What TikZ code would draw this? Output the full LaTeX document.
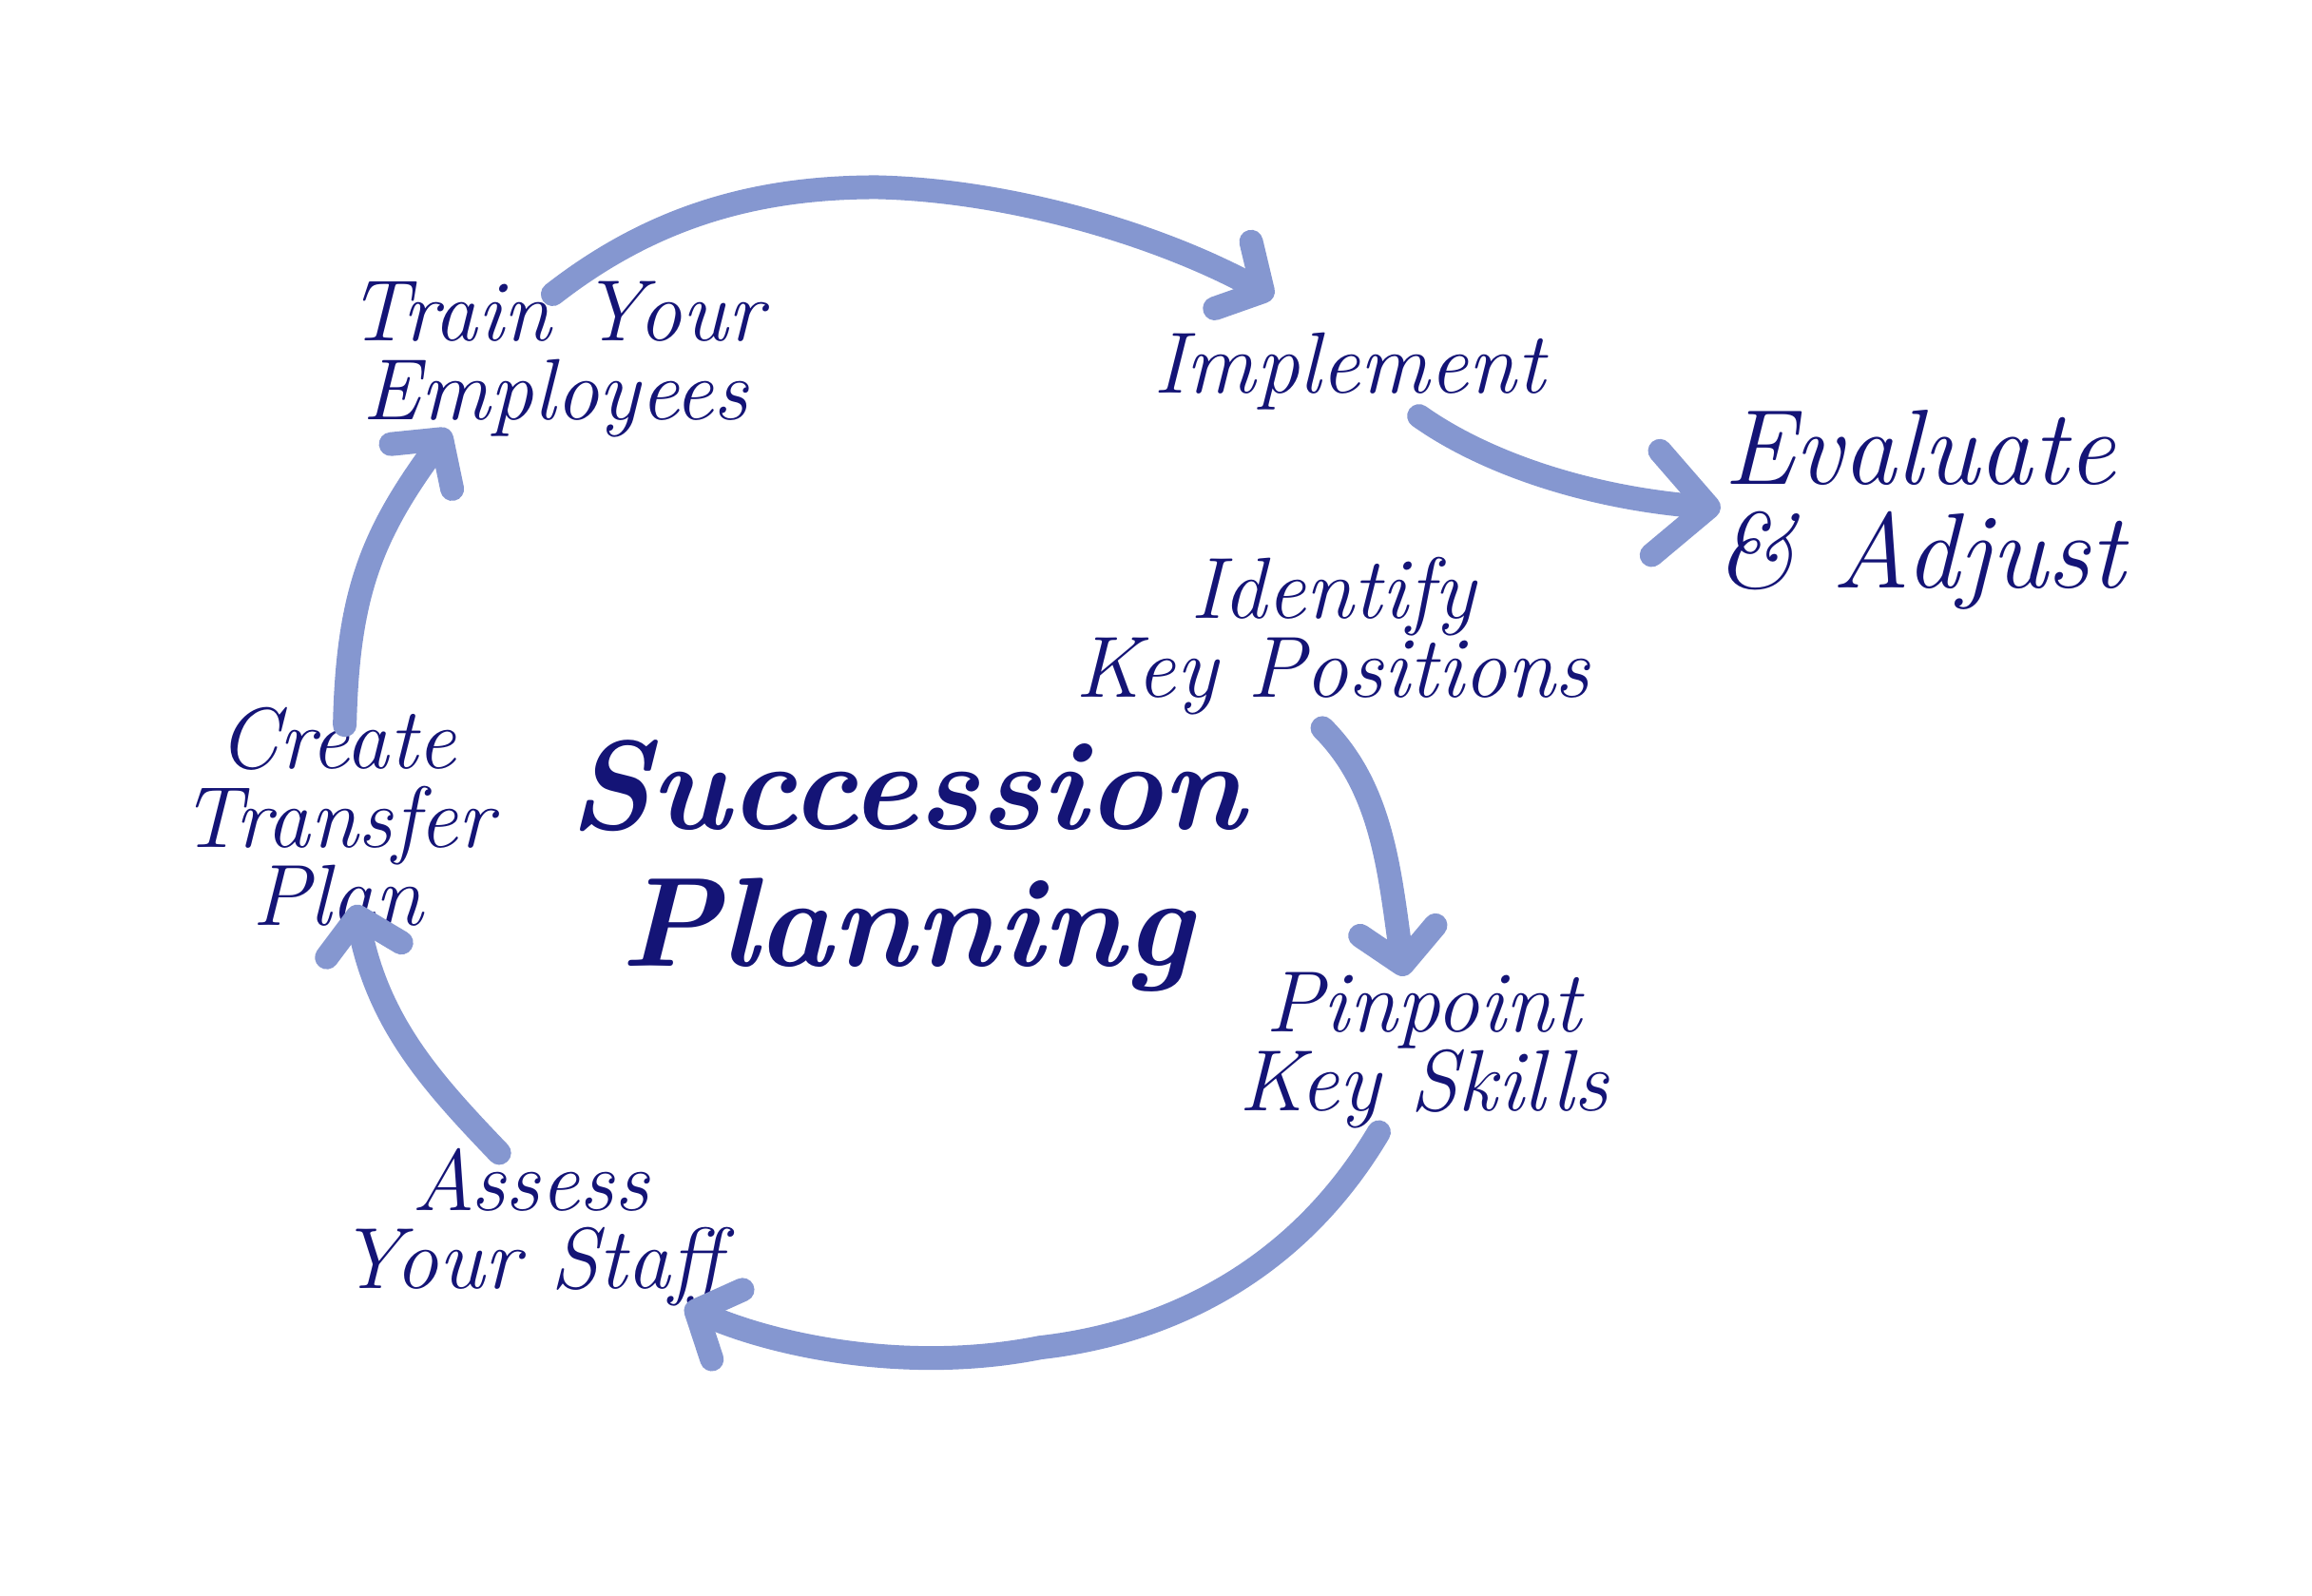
\documentclass[tikz,border=0pt]{standalone}
\usetikzlibrary{arrows.meta}
\definecolor{navy}{RGB}{20,20,118}
\definecolor{arrowblue}{RGB}{133,151,208}
\begin{document}
\begin{tikzpicture}[x=0.1563mm,y=-0.1563mm,
  lbl/.style={text=navy, font=\fontsize{26}{23.5}\selectfont\itshape, align=center, inner sep=0pt},
  bigl/.style={text=navy, font=\fontsize{32}{31}\selectfont\itshape, align=center, inner sep=0pt},
  titl/.style={text=navy, font=\fontsize{38}{41}\selectfont\bfseries\itshape, align=center, inner sep=0pt},
  flow/.style={draw=arrowblue, line width=2.5mm, line cap=round,
    -{Straight Barb[length=3.6mm,width=8mm,round]}},
  bigflow/.style={flow, -{Straight Barb[length=5.6mm,width=11mm,round]}}]
\fill[white] (0,0) rectangle (1556,1074);
\useasboundingbox (0,0) rectangle (1556,1074);

% labels
\node[lbl] (train) at (374,242) {Train Your\\Employees};
\node[lbl] (impl) at (908,250) {Implement};
\node[bigl] (eval) at (1292,343) {Evaluate\\\& Adjust};
\node[lbl] (ident) at (897,428) {Identify\\Key Positions};
\node[titl] (title) at (610,583) {Succession\\Planning};
\node[lbl] (create) at (227,550) {Create\\Transfer\\Plan};
\node[lbl] (pin) at (958,707) {Pinpoint\\Key Skills};
\node[lbl] (assess) at (357,826) {Assess\\Your Staff};

% connector ends
\coordinate (a1s) at (372,198);
\coordinate (a1m) at (590,126);
\coordinate (a1e) at (857,200);
\coordinate (a2s) at (955,280);
\coordinate (a2e) at (1158,342);
\coordinate (a3s) at (890,490);
\coordinate (a3e) at (945,657);
\coordinate (a4s) at (928,762);
\coordinate (a4m) at (700,907);
\coordinate (a4e) at (461,879);
\coordinate (a5s) at (336,776);
\coordinate (a5e) at (239,609);
\coordinate (a6s) at (232,488);
\coordinate (a6e) at (302,289);

\draw[flow] (a1s) .. controls (440,145) and (510,126) .. (a1m)
  .. controls (680,128) and (780,158) .. (a1e);
\draw[bigflow] (a2s) .. controls (1000,312) and (1070,335) .. (a2e);
\draw[flow] (a3s) .. controls (930,530) and (935,585) .. (a3e);
\draw[flow] (a4s) .. controls (870,860) and (780,898) .. (a4m)
  .. controls (610,925) and (520,905) .. (a4e);
\draw[flow] (a5s) .. controls (292,730) and (255,690) .. (a5e);
\draw[flow] (a6s) .. controls (234,400) and (250,360) .. (a6e);
\end{tikzpicture}
\end{document}
